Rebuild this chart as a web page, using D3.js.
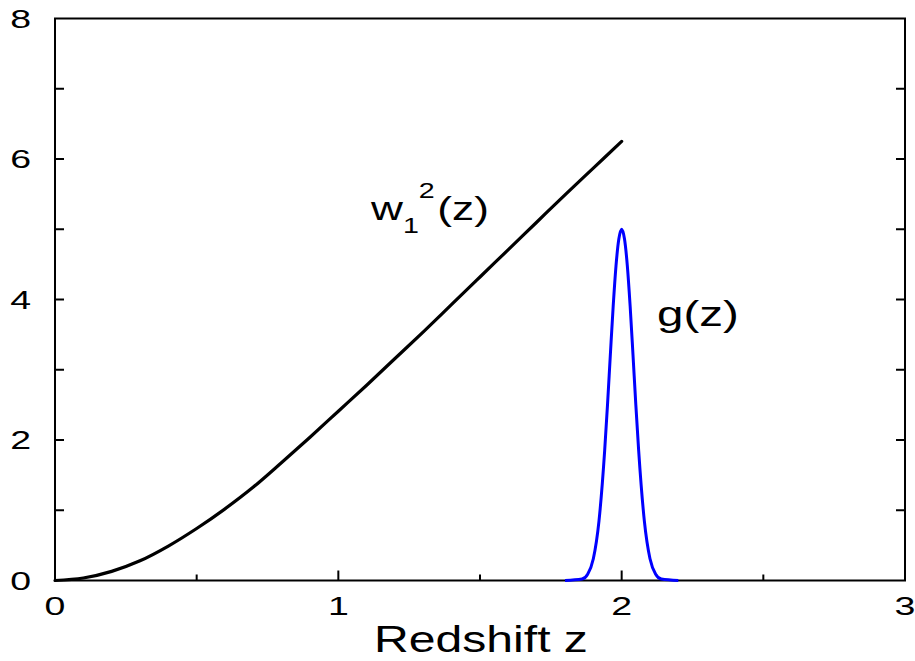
<!DOCTYPE html>
<html>
<head>
<meta charset="utf-8">
<script src="https://cdn.jsdelivr.net/npm/d3@7"></script>
<style>
  body { margin: 0; background: #fff; }
  svg { display: block; font-family: "Liberation Sans", Arial, sans-serif; }
</style>
</head>
<body>
<svg width="915" height="661"></svg>
<script>
// w1^2(z) curve
const zW = [0, 0.1, 0.2, 0.3, 0.4, 0.5, 0.6, 0.7, 0.8, 0.9, 1.0,
            1.1, 1.2, 1.3, 1.4, 1.5, 1.6, 1.7, 1.8, 1.9, 2.0]
const wVal = [0, 0.035, 0.13, 0.28, 0.49, 0.74, 1.02, 1.33, 1.68, 2.04, 2.41,
              2.78, 3.16, 3.54, 3.93, 4.32, 4.71, 5.10, 5.49, 5.87, 6.25]

// g(z) peak around z = 2
const zG = [1.80, 1.86, 1.88, 1.90, 1.92, 1.94, 1.95, 1.96, 1.97, 1.98, 1.99, 2.00,
            2.01, 2.02, 2.03, 2.04, 2.05, 2.06, 2.08, 2.10, 2.12, 2.14, 2.20]
const gVal = [0, 0.02, 0.09, 0.31, 0.85, 1.85, 2.50, 3.21, 3.90, 4.48, 4.86, 5.00,
              4.86, 4.48, 3.90, 3.21, 2.50, 1.85, 0.85, 0.31, 0.09, 0.02, 0]

const xTicks = [0, 1, 2, 3]
const xMinor = [0.5, 1.5, 2.5]
const yTicks = [0, 2, 4, 6, 8]
const yMinor = [1, 3, 5, 7]

const svg = d3.select("svg")
const mLeft = 55, mRight = 905, mTop = 18.5, mBottom = 580.5

let x = d3.scaleLinear().domain([0, 3]).range([mLeft, mRight])
let y = d3.scaleLinear().domain([0, 8]).range([mBottom, mTop])

// ticks, pointing inward
const tk = svg.append("g").attr("stroke", "#000").attr("stroke-width", 2)
xTicks.slice(1, -1).forEach(function(v){
  tk.append("line").attr("x1", x(v)).attr("x2", x(v)).attr("y1", mBottom).attr("y2", mBottom - 10)
})
xMinor.forEach(function(v){
  tk.append("line").attr("x1", x(v)).attr("x2", x(v)).attr("y1", mBottom).attr("y2", mBottom - 6)
})
yTicks.slice(1, -1).concat(yMinor).forEach(function(v){
  tk.append("line").attr("x1", mLeft).attr("x2", mLeft + 9).attr("y1", y(v)).attr("y2", y(v))
  tk.append("line").attr("x1", mRight).attr("x2", mRight - 9).attr("y1", y(v)).attr("y2", y(v))
})

// frame
svg.append("rect")
  .attr("x", mLeft).attr("y", mTop)
  .attr("width", mRight - mLeft).attr("height", mBottom - mTop)
  .attr("fill", "none").attr("stroke", "#000").attr("stroke-width", 2)

// tick labels (the original glyphs are stretched sideways)
xTicks.forEach(function(v){
  svg.append("text")
    .attr("transform", "translate(" + x(v) + "," + 615 + ") scale(1.5,1)")
    .attr("text-anchor", "middle")
    .attr("font-size", 25)
    .text(v)
})
yTicks.forEach(function(v){
  svg.append("text")
    .attr("transform", "translate(" + 31 + "," + (y(v) + 9) + ") scale(1.5,1)")
    .attr("text-anchor", "end")
    .attr("font-size", 25)
    .text(v)
})

svg.append("text")
  .attr("transform", "translate(" + 481 + "," + 652 + ") scale(1.3,1)")
  .attr("text-anchor", "middle")
  .attr("font-size", 37)
  .text("Redshift z")

// curves
const line = d3.line()
  .x(function(d){ return x(d[0]) })
  .y(function(d){ return y(d[1]) })

svg.append("path")
  .datum(d3.zip(zW, wVal))
  .attr("fill", "none")
  .attr("stroke", "#000")
  .attr("stroke-width", 3.2)
  .attr("stroke-linecap", "round")
  .attr("d", line.curve(d3.curveCatmullRom))

svg.append("path")
  .datum(d3.zip(zG, gVal))
  .attr("fill", "none")
  .attr("stroke", "#0000ff")
  .attr("stroke-width", 3)
  .attr("d", line.curve(d3.curveMonotoneX))

// curve labels
const wl = svg.append("text")
  .attr("transform", "translate(" + 371 + "," + 220 + ") scale(1.3,1)")
  .attr("font-size", 34)
wl.append("tspan").text("w")
wl.append("tspan").attr("font-size", 22).attr("dy", 13).text("1")
wl.append("tspan").attr("font-size", 22).attr("dy", -35).attr("dx", 0).text("2")
wl.append("tspan").attr("dy", 22).attr("dx", 2).text("(z)")

svg.append("text")
  .attr("transform", "translate(" + 657 + "," + 326 + ") scale(1.32,1)")
  .attr("font-size", 36)
  .text("g(z)")
</script>
</body>
</html>
